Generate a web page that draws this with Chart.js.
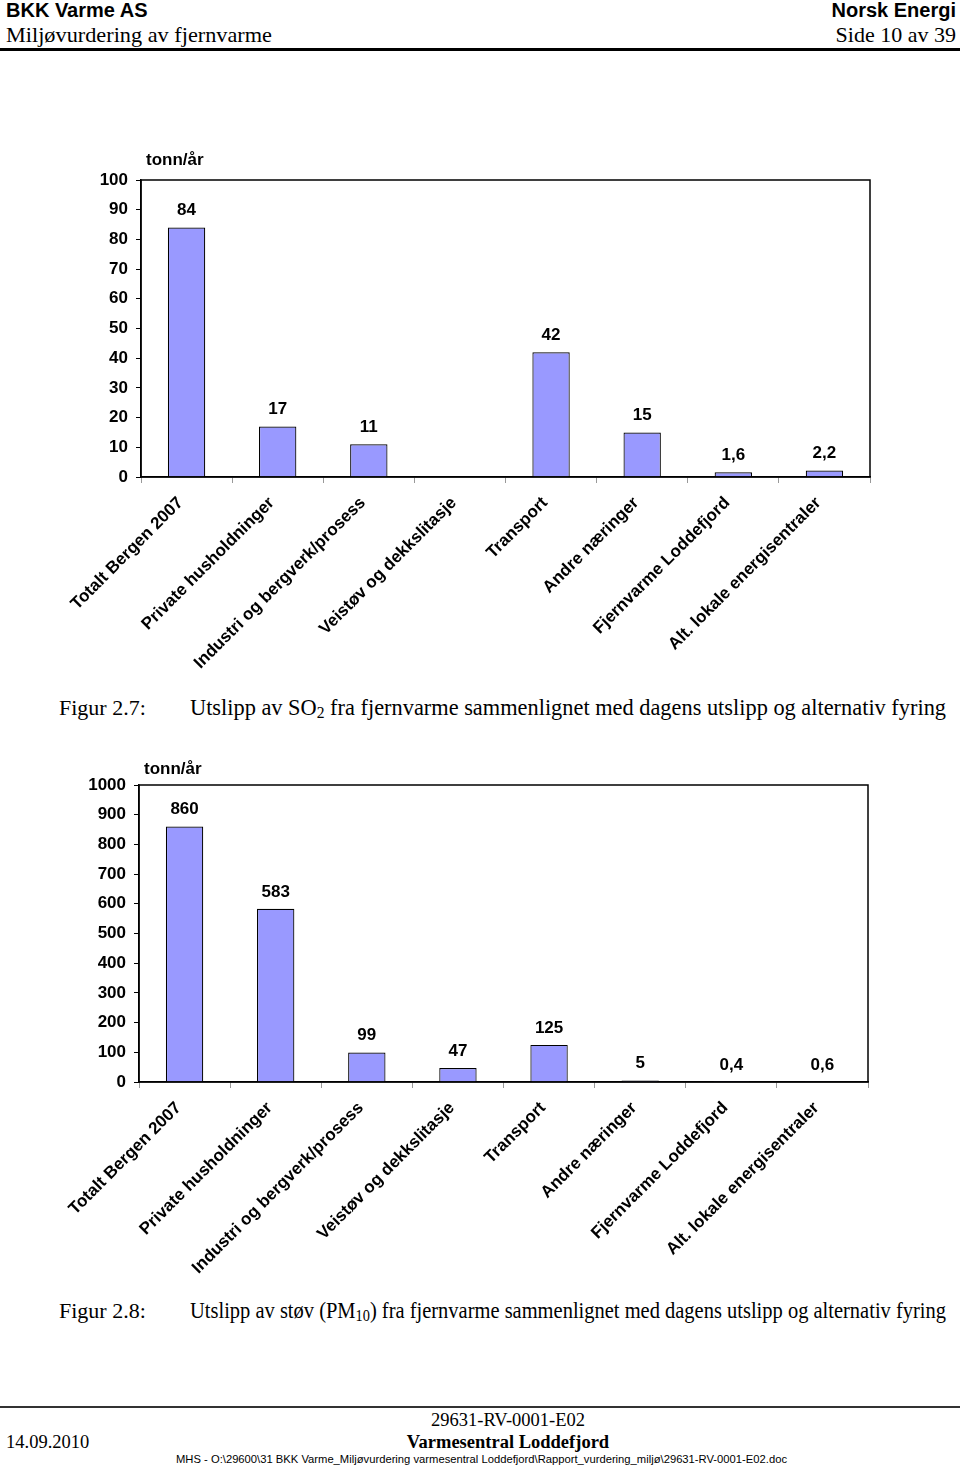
<!DOCTYPE html>
<html>
<head>
<meta charset="utf-8">
<script src="https://cdn.jsdelivr.net/npm/chart.js@4"></script>
<style>
  body { margin: 0; background: #fff; }
  #page { position: relative; width: 960px; height: 1469px; overflow: hidden; }
  .t { position: absolute; white-space: nowrap; color: #000; transform-origin: left center; }
  .sans { font-family: "Liberation Sans", Arial, sans-serif; }
  .serif { font-family: "Liberation Serif", "Times New Roman", serif; }
  .c { transform: translateX(-50%); }
  canvas { position: absolute; left: 0; }
  sub { font-size: 70%; vertical-align: -3px; line-height: 0; }
</style>
</head>
<body>
<div id="page">
  <div class="t sans" style="left:6px; top:0; font-size:20px; line-height:20px; font-weight:bold;">BKK Varme AS</div>
  <div class="t sans" style="right:4px; top:0; font-size:20px; line-height:20px; font-weight:bold;">Norsk Energi</div>
  <div class="t serif" data-fit="266" style="left:6px; top:24px; font-size:22px; line-height:22px;">Miljøvurdering av fjernvarme</div>
  <div class="t serif" style="right:4px; top:24px; font-size:22px; line-height:22px;">Side 10 av 39</div>
  <div style="position:absolute; left:0; top:48px; width:960px; height:3px; background:#000;"></div>

  <canvas id="so2Chart" width="960" height="540" style="top:150px;"></canvas>
  <div class="t serif" style="left:59px; top:697px; font-size:22px; line-height:22px;">Figur 2.7:</div>
  <div class="t serif" data-fit="756" style="left:190px; top:696px; font-size:23px; line-height:23px;">Utslipp av SO<sub>2</sub> fra fjernvarme sammenlignet med dagens utslipp og alternativ fyring</div>

  <canvas id="pm10Chart" width="960" height="540" style="top:755px; left:-2px;"></canvas>
  <div class="t serif" style="left:59px; top:1300px; font-size:22px; line-height:22px;">Figur 2.8:</div>
  <div class="t serif" data-fit="756" style="left:190px; top:1299px; font-size:23px; line-height:23px;">Utslipp av støv (PM<sub>10</sub>) fra fjernvarme sammenlignet med dagens utslipp og alternativ fyring</div>

  <div style="position:absolute; left:0; top:1406px; width:960px; height:2px; background:#333;"></div>
  <div class="t serif c" style="left:508px; top:1410px; font-size:18.5px; line-height:20px;">29631-RV-0001-E02</div>
  <div class="t serif" style="left:6px; top:1432px; font-size:18.5px; line-height:20px;">14.09.2010</div>
  <div class="t serif c" style="left:508px; top:1432px; font-size:18.5px; line-height:20px; font-weight:bold;">Varmesentral Loddefjord</div>
  <div class="t sans" data-fit="611" style="left:176px; top:1453px; font-size:11px; line-height:12px;">MHS - O:\29600\31 BKK Varme_Miljøvurdering varmesentral Loddefjord\Rapport_vurdering_miljø\29631-RV-0001-E02.doc</div>
</div>

<script>
// --- data ---
const categories = [
  "Totalt Bergen 2007",
  "Private husholdninger",
  "Industri og bergverk/prosess",
  "Veistøv og dekkslitasje",
  "Transport",
  "Andre næringer",
  "Fjernvarme Loddefjord",
  "Alt. lokale energisentraler",
];
const so2Values = [84, 17, 11, null, 42, 15, 1.6, 2.2];
const pm10Values = [860, 583, 99, 47, 125, 5, 0.4, 0.6];
const so2Axis = { max: 100, step: 10 };
const pm10Axis = { max: 1000, step: 100 };
const unitLabel = "tonn/år";

const FONT = "'Liberation Sans', Arial, sans-serif";

// squeeze text blocks to the widths in the scan
document.querySelectorAll("[data-fit]").forEach((el) => {
  const w = el.getBoundingClientRect().width;
  el.style.transform = "scaleX(" + (+el.dataset.fit / w) + ")";
});

// frame + value labels + unit
const framePlugin = {
  id: "frame",
  afterDraw(chart) {
    const { ctx, chartArea: a } = chart;
    ctx.save();
    ctx.strokeStyle = "#000";
    ctx.lineWidth = 1.5;
    ctx.strokeRect(a.left, a.top, a.right - a.left, a.bottom - a.top);

    ctx.fillStyle = "#000";
    ctx.font = "bold 17px " + FONT;
    ctx.textAlign = "center";
    ctx.textBaseline = "middle";
    const meta = chart.getDatasetMeta(0);
    const vals = chart.data.datasets[0].data;
    meta.data.forEach((bar, i) => {
      if (vals[i] == null) return;
      ctx.fillText(String(vals[i]).replace(".", ","), bar.x, bar.y - 17);
    });

    ctx.textAlign = "left";
    ctx.fillText(unitLabel, a.left + 5, a.top - chart.options.plugins.frame.unitGap);
    ctx.restore();
  },
};

function makeChart(id, values, axis, unitGap) {
  return new Chart(document.getElementById(id), {
    type: "bar",
    data: {
      labels: categories,
      datasets: [{
        data: values,
        backgroundColor: "#9999ff",
        borderColor: "#000",
        borderWidth: 1.2,
        barPercentage: 0.41,
        categoryPercentage: 1,
      }],
    },
    options: {
      responsive: false,
      animation: false,
      layout: { padding: { top: 30, right: 90, left: 0, bottom: 0 } },
      plugins: { legend: { display: false }, tooltip: { enabled: false }, frame: { unitGap } },
      scales: {
        x: {
          grid: { drawOnChartArea: false, tickLength: 6, color: "#999", offset: true },
          border: { color: "#000", width: 1.5 },
          ticks: {
            color: "#000",
            font: { family: FONT, size: 17, weight: "bold" },
            maxRotation: 45,
            minRotation: 45,
            autoSkip: false,
            padding: 10,
            labelOffset: -6,
          },
          afterFit(scale) { scale.height = 213; },
        },
        y: {
          min: 0,
          max: axis.max,
          grid: { drawOnChartArea: false, tickLength: 5, color: "#000" },
          border: { color: "#000", width: 1.5 },
          ticks: {
            stepSize: axis.step,
            color: "#000",
            font: { family: FONT, size: 17, weight: "bold" },
            padding: 8,
            callback: (v) => String(v),
          },
          afterFit(scale) { scale.width = 141; },
        },
      },
    },
    plugins: [framePlugin],
  });
}

makeChart("so2Chart", so2Values, so2Axis, 20);
makeChart("pm10Chart", pm10Values, pm10Axis, 16);
</script>
</body>
</html>
